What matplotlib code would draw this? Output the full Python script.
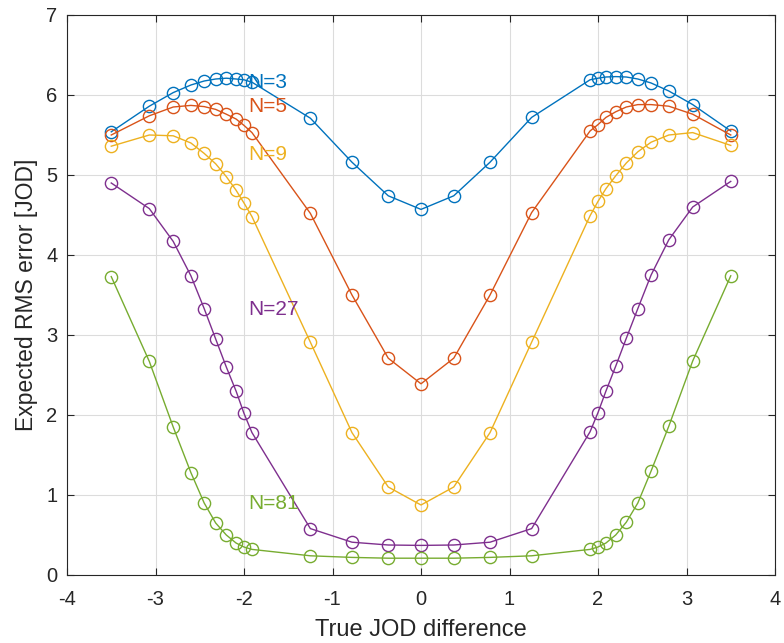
import matplotlib
matplotlib.use("Agg")
import matplotlib.pyplot as plt

plt.rcParams['font.family'] = ['Liberation Sans', 'DejaVu Sans']
plt.rcParams['axes.unicode_minus'] = False

x = [-3.5, -3.07, -2.8, -2.6, -2.45, -2.32, -2.2, -2.09, -2.0, -1.91, -1.25, -0.78, -0.37, 0.0,
     0.37, 0.78, 1.25, 1.91, 2.0, 2.09, 2.2, 2.32, 2.45, 2.6, 2.8, 3.07, 3.5]

n3 = [5.54, 5.86, 6.03, 6.125, 6.175, 6.2, 6.21, 6.2, 6.19, 6.16, 5.71, 5.16, 4.74, 4.57,
      4.74, 5.16, 5.72, 6.19, 6.21, 6.225, 6.23, 6.225, 6.2, 6.15, 6.05, 5.88, 5.55]
n5 = [5.5, 5.74, 5.85, 5.87, 5.855, 5.82, 5.76, 5.7, 5.62, 5.53, 4.52, 3.5, 2.71, 2.39,
      2.71, 3.5, 4.53, 5.55, 5.63, 5.72, 5.79, 5.85, 5.88, 5.88, 5.86, 5.76, 5.5]
n9 = [5.36, 5.5, 5.49, 5.4, 5.27, 5.14, 4.98, 4.81, 4.65, 4.48, 2.91, 1.78, 1.1, 0.875,
      1.1, 1.78, 2.91, 4.49, 4.67, 4.83, 4.99, 5.15, 5.29, 5.41, 5.5, 5.53, 5.37]
n27 = [4.9, 4.58, 4.17, 3.74, 3.33, 2.95, 2.6, 2.3, 2.02, 1.78, 0.58, 0.41, 0.375, 0.37,
       0.375, 0.41, 0.58, 1.79, 2.03, 2.3, 2.61, 2.96, 3.33, 3.75, 4.19, 4.6, 4.92]
n81 = [3.73, 2.67, 1.85, 1.28, 0.9, 0.65, 0.5, 0.4, 0.35, 0.32, 0.24, 0.22, 0.21, 0.21,
       0.21, 0.22, 0.24, 0.32, 0.35, 0.4, 0.5, 0.66, 0.9, 1.3, 1.86, 2.675, 3.74]

series = [("N=3", n3, "#0072BD", 6.16),
          ("N=5", n5, "#D95319", 5.85),
          ("N=9", n9, "#EDB120", 5.25),
          ("N=27", n27, "#7E2F8E", 3.32),
          ("N=81", n81, "#77AC30", 0.89)]
label_x = -1.95

xticks = [-4, -3, -2, -1, 0, 1, 2, 3, 4]
yticks = [0, 1, 2, 3, 4, 5, 6, 7]

fig = plt.figure(figsize=(7.84, 6.43), dpi=100)
ax = fig.add_axes([67/784, 1-575/643, (775-67)/784, (575-15)/643])

for name, ys, col, ly in series:
    ax.plot(x, ys, '-', color=col, lw=1.0, marker='o', markersize=8.8,
            markerfacecolor='none', markeredgecolor=col, markeredgewidth=1.0)
    ax.text(label_x, ly, name, color=col, fontsize=15, ha='left', va='center')

ax.set_xlim(-4, 4)
ax.set_ylim(0, 7)
ax.set_xticks(xticks)
ax.set_yticks(yticks)
ax.set_xticklabels([str(t) for t in xticks])
ax.set_yticklabels([str(t) for t in yticks])
ax.grid(True, color='#dcdcdc', lw=0.8)
ax.set_axisbelow(True)
ax.tick_params(direction='in', top=True, right=True, length=5, width=0.8,
               colors='#262626', labelsize=14.5)
ax.tick_params(axis='x', pad=11)
ax.tick_params(axis='y', pad=7)
for s in ax.spines.values():
    s.set_color('#262626')
    s.set_linewidth(0.8)
ax.set_xlabel("True JOD difference", fontsize=17, color='#262626', labelpad=7)
ax.set_ylabel("Expected RMS error [JOD]", fontsize=16.5, color='#262626', labelpad=6)

fig.savefig("out.png", dpi=100)
